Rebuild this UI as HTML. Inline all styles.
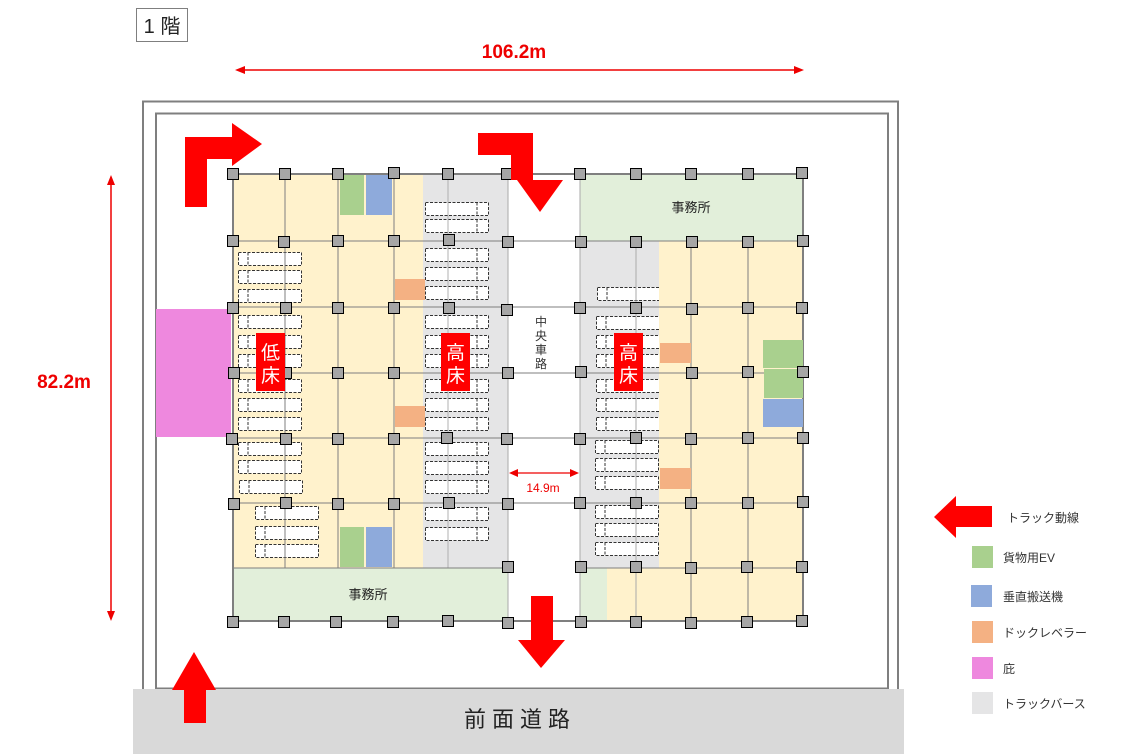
<!DOCTYPE html>
<html><head><meta charset="utf-8"><style>
html,body{margin:0;padding:0;background:#fff;}
svg{display:block;font-family:"Liberation Sans","Noto Sans CJK JP",sans-serif;}
</style></head><body>
<svg width="1130" height="754" viewBox="0 0 1130 754" xmlns="http://www.w3.org/2000/svg">
<defs>
<g id="tl"><rect x="0.5" y="0.5" width="63" height="13" fill="#fff" stroke="#333" stroke-width="1" stroke-dasharray="3,1.5"/><line x1="10" y1="0.5" x2="10" y2="13.5" stroke="#333" stroke-width="1" stroke-dasharray="3,1.5"/></g>
<g id="tr"><rect x="0.5" y="0.5" width="63" height="13" fill="#fff" stroke="#333" stroke-width="1" stroke-dasharray="3,1.5"/><line x1="52" y1="0.5" x2="52" y2="13.5" stroke="#333" stroke-width="1" stroke-dasharray="3,1.5"/></g>
<rect id="c" x="-5.5" y="-5.5" width="11" height="11" fill="#a6a6a6" stroke="#000" stroke-width="1"/>
</defs>

<rect x="136.5" y="8.5" width="51" height="33" fill="#fff" stroke="#7f7f7f"/>
<text x="162" y="33" font-size="20" text-anchor="middle" fill="#222">1 階</text>

<text x="514" y="58" font-size="19" font-weight="bold" fill="#e00" text-anchor="middle">106.2m</text>
<line x1="242" y1="70" x2="797" y2="70" stroke="#e00" stroke-width="1.5"/>
<polygon points="235,70 245,66 245,74" fill="#e00"/><polygon points="804,70 794,66 794,74" fill="#e00"/>
<text x="64" y="388" font-size="19" font-weight="bold" fill="#e00" text-anchor="middle">82.2m</text>
<line x1="111" y1="182" x2="111" y2="614" stroke="#e00" stroke-width="1.5"/>
<polygon points="111,175 107,185 115,185" fill="#e00"/><polygon points="111,621 107,611 115,611" fill="#e00"/>

<rect x="143" y="101.5" width="755" height="589" fill="#fff" stroke="#7f7f7f" stroke-width="2"/>
<rect x="156" y="113.5" width="732" height="575" fill="#fff" stroke="#7f7f7f" stroke-width="2"/>
<rect x="133" y="689" width="771" height="65" fill="#d9d9d9"/>
<text x="520" y="727" font-size="22" text-anchor="middle" fill="#222" letter-spacing="6">前面道路</text>

<rect x="156" y="309" width="75" height="128" fill="#ee88de"/>

<rect x="233" y="174" width="190" height="394" fill="#fff2cc"/>
<rect x="423" y="174" width="85" height="394" fill="#e5e5e6"/>
<rect x="233" y="568" width="275" height="53" fill="#e2efda"/>
<rect x="580" y="174" width="223" height="67" fill="#e2efda"/>
<rect x="580" y="241" width="79" height="327" fill="#e5e5e6"/>
<rect x="659" y="241" width="144" height="380" fill="#fff2cc"/>
<rect x="580" y="568" width="27" height="53" fill="#e2efda"/>
<rect x="607" y="568" width="196" height="53" fill="#fff2cc"/>

<use href="#tl" x="238" y="252"/><use href="#tl" x="238" y="270"/><use href="#tl" x="238" y="289"/>
<use href="#tl" x="238" y="315"/><use href="#tl" x="238" y="335"/><use href="#tl" x="238" y="354"/>
<use href="#tl" x="238" y="379"/><use href="#tl" x="238" y="398"/><use href="#tl" x="238" y="417"/>
<use href="#tl" x="238" y="442"/><use href="#tl" x="238" y="460"/><use href="#tl" x="239" y="480"/>
<use href="#tl" x="255" y="506"/><use href="#tl" x="255" y="526"/><use href="#tl" x="255" y="544"/>
<use href="#tr" x="425" y="202"/><use href="#tr" x="425" y="219"/>
<use href="#tr" x="425" y="248"/><use href="#tr" x="425" y="267"/><use href="#tr" x="425" y="286"/>
<use href="#tr" x="425" y="315"/><use href="#tr" x="425" y="335"/><use href="#tr" x="425" y="354"/>
<use href="#tr" x="425" y="379"/><use href="#tr" x="425" y="398"/><use href="#tr" x="425" y="417"/>
<use href="#tr" x="425" y="442"/><use href="#tr" x="425" y="461"/><use href="#tr" x="425" y="480"/>
<use href="#tr" x="425" y="507"/><use href="#tr" x="425" y="527"/>
<use href="#tl" x="597" y="287"/>
<use href="#tl" x="596" y="316"/><use href="#tl" x="596" y="335"/><use href="#tl" x="596" y="354"/>
<use href="#tl" x="596" y="379"/><use href="#tl" x="596" y="398"/><use href="#tl" x="596" y="417"/>
<use href="#tl" x="595" y="440"/><use href="#tl" x="595" y="458"/><use href="#tl" x="595" y="476"/>
<use href="#tl" x="595" y="505"/><use href="#tl" x="595" y="523"/><use href="#tl" x="595" y="542"/>
<rect x="659" y="280" width="3" height="280" fill="#fff2cc"/>

<g stroke="#7f7f7f" stroke-width="1" fill="none">
<line x1="285" y1="174" x2="285" y2="568"/><line x1="338" y1="174" x2="338" y2="568"/>
<line x1="394" y1="174" x2="394" y2="568"/><line x1="448" y1="174" x2="448" y2="568" stroke="#b0b0b0"/>
<line x1="636" y1="241" x2="636" y2="621" stroke="#aaa"/><line x1="691" y1="241" x2="691" y2="621"/>
<line x1="748" y1="241" x2="748" y2="621"/>
<line x1="508" y1="174" x2="508" y2="621" stroke="#aaa"/><line x1="580" y1="174" x2="580" y2="621" stroke="#aaa"/>
<line x1="233" y1="241" x2="803" y2="241"/><line x1="233" y1="307" x2="803" y2="307"/>
<line x1="233" y1="373" x2="803" y2="373"/><line x1="233" y1="438" x2="803" y2="438"/>
<line x1="233" y1="503" x2="803" y2="503"/><line x1="233" y1="568" x2="508" y2="568"/>
<line x1="580" y1="568" x2="803" y2="568"/>
</g>
<g stroke="#7f7f7f" stroke-width="2" fill="none">
<line x1="233" y1="174" x2="803" y2="174"/><line x1="233" y1="621" x2="803" y2="621"/>
<line x1="233" y1="174" x2="233" y2="621"/><line x1="803" y1="174" x2="803" y2="621"/>
</g>

<rect x="340" y="175" width="24" height="40" fill="#a9d08e"/><rect x="366" y="175" width="26" height="40" fill="#8eaadb"/>
<rect x="340" y="527" width="24" height="40" fill="#a9d08e"/><rect x="366" y="527" width="26" height="40" fill="#8eaadb"/>
<rect x="763" y="340" width="40" height="28" fill="#a9d08e"/><rect x="764" y="369" width="39" height="29" fill="#a9d08e"/>
<rect x="763" y="399" width="40" height="28" fill="#8eaadb"/>
<rect x="395" y="279" width="30" height="21" fill="#f4b183"/><rect x="395" y="406" width="30" height="21" fill="#f4b183"/>
<rect x="660" y="343" width="31" height="20" fill="#f4b183"/><rect x="660" y="468" width="31" height="21" fill="#f4b183"/>

<g>
<use href="#c" x="233" y="174"/><use href="#c" x="285" y="174"/><use href="#c" x="338" y="174"/><use href="#c" x="394" y="173"/><use href="#c" x="448" y="174"/><use href="#c" x="507" y="174"/>
<use href="#c" x="580" y="174"/><use href="#c" x="636" y="174"/><use href="#c" x="691" y="174"/><use href="#c" x="748" y="174"/><use href="#c" x="802" y="173"/>
<use href="#c" x="233" y="241"/><use href="#c" x="284" y="242"/><use href="#c" x="338" y="241"/><use href="#c" x="394" y="241"/><use href="#c" x="449" y="240"/><use href="#c" x="508" y="242"/>
<use href="#c" x="581" y="242"/><use href="#c" x="636" y="242"/><use href="#c" x="692" y="242"/><use href="#c" x="748" y="242"/><use href="#c" x="803" y="241"/>
<use href="#c" x="233" y="308"/><use href="#c" x="286" y="308"/><use href="#c" x="338" y="308"/><use href="#c" x="394" y="308"/><use href="#c" x="449" y="308"/><use href="#c" x="507" y="310"/>
<use href="#c" x="580" y="308"/><use href="#c" x="636" y="308"/><use href="#c" x="692" y="309"/><use href="#c" x="748" y="308"/><use href="#c" x="802" y="308"/>
<use href="#c" x="234" y="373"/><use href="#c" x="286" y="373"/><use href="#c" x="338" y="373"/><use href="#c" x="394" y="373"/><use href="#c" x="508" y="373"/>
<use href="#c" x="581" y="372"/><use href="#c" x="692" y="373"/><use href="#c" x="748" y="372"/><use href="#c" x="803" y="372"/>
<use href="#c" x="232" y="439"/><use href="#c" x="286" y="439"/><use href="#c" x="338" y="439"/><use href="#c" x="394" y="439"/><use href="#c" x="447" y="438"/><use href="#c" x="507" y="439"/>
<use href="#c" x="580" y="439"/><use href="#c" x="636" y="438"/><use href="#c" x="691" y="439"/><use href="#c" x="748" y="438"/><use href="#c" x="803" y="438"/>
<use href="#c" x="234" y="504"/><use href="#c" x="286" y="503"/><use href="#c" x="338" y="504"/><use href="#c" x="394" y="504"/><use href="#c" x="449" y="503"/><use href="#c" x="508" y="504"/>
<use href="#c" x="580" y="503"/><use href="#c" x="636" y="503"/><use href="#c" x="691" y="503"/><use href="#c" x="748" y="503"/><use href="#c" x="803" y="502"/>
<use href="#c" x="508" y="567"/><use href="#c" x="581" y="567"/><use href="#c" x="636" y="567"/><use href="#c" x="691" y="568"/><use href="#c" x="747" y="567"/><use href="#c" x="802" y="567"/>
<use href="#c" x="233" y="622"/><use href="#c" x="284" y="622"/><use href="#c" x="336" y="622"/><use href="#c" x="393" y="622"/><use href="#c" x="448" y="621"/><use href="#c" x="508" y="623"/>
<use href="#c" x="581" y="622"/><use href="#c" x="636" y="622"/><use href="#c" x="691" y="623"/><use href="#c" x="747" y="622"/><use href="#c" x="802" y="621"/>
</g>

<rect x="256" y="333" width="29" height="58" fill="#f00"/>
<text x="270.5" y="359" font-size="19" fill="#fff" text-anchor="middle">低</text><text x="270.5" y="382" font-size="19" fill="#fff" text-anchor="middle">床</text>
<rect x="441" y="333" width="29" height="58" fill="#f00"/>
<text x="455.5" y="359" font-size="19" fill="#fff" text-anchor="middle">高</text><text x="455.5" y="382" font-size="19" fill="#fff" text-anchor="middle">床</text>
<rect x="614" y="333" width="29" height="58" fill="#f00"/>
<text x="628.5" y="359" font-size="19" fill="#fff" text-anchor="middle">高</text><text x="628.5" y="382" font-size="19" fill="#fff" text-anchor="middle">床</text>

<g font-size="12" fill="#333" text-anchor="middle">
<text x="541" y="326">中</text><text x="541" y="340">央</text><text x="541" y="354">車</text><text x="541" y="368">路</text>
</g>
<text x="691" y="212" font-size="13" fill="#222" text-anchor="middle">事務所</text>
<text x="368" y="599" font-size="13" fill="#222" text-anchor="middle">事務所</text>

<line x1="516" y1="473" x2="572" y2="473" stroke="#e00" stroke-width="1.3"/>
<polygon points="509,473 518,469 518,477" fill="#e00"/><polygon points="579,473 570,469 570,477" fill="#e00"/>
<text x="543" y="492" font-size="12" fill="#e00" text-anchor="middle">14.9m</text>

<polygon points="185,207 207,207 207,159 232,159 232,166 262,144 232,123 232,137 185,137" fill="#f00"/>
<polygon points="478,133 533,133 533,180 563,180 540,212 517,180 511,180 511,155 478,155" fill="#f00"/>
<polygon points="531,596 553,596 553,640 565,640 541,668 518,640 531,640" fill="#f00"/>
<polygon points="184,723 206,723 206,690 216,690 194,652 172,690 184,690" fill="#f00"/>

<polygon points="934,517 956,496 956,506 992,506 992,527 956,527 956,538" fill="#f00"/>
<g font-size="12" fill="#333">
<text x="1007" y="522">トラック動線</text>
<rect x="972" y="546" width="21" height="22" fill="#a9d08e"/><text x="1003" y="562">貨物用EV</text>
<rect x="971" y="585" width="21" height="22" fill="#8eaadb"/><text x="1003" y="601">垂直搬送機</text>
<rect x="972" y="621" width="21" height="22" fill="#f4b183"/><text x="1003" y="637">ドックレベラー</text>
<rect x="972" y="657" width="21" height="22" fill="#ee88de"/><text x="1003" y="673">庇</text>
<rect x="972" y="692" width="21" height="22" fill="#e5e5e6"/><text x="1003" y="708">トラックバース</text>
</g>
</svg>
</body></html>
